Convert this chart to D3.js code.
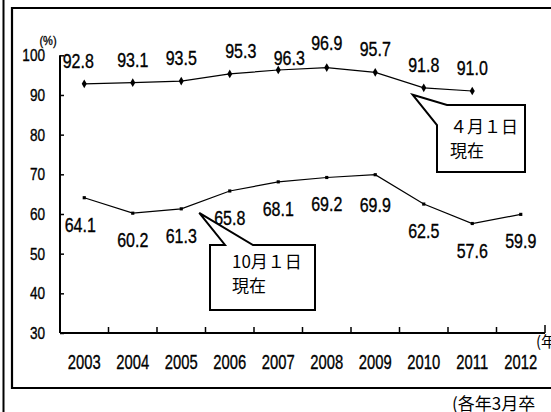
<!DOCTYPE html>
<html>
<head>
<meta charset="utf-8">
<script src="https://cdn.jsdelivr.net/npm/d3@7"></script>
<style>
  html, body { margin: 0; padding: 0; background: #fff; }
  svg { display: block; }
</style>
</head>
<body>
<svg id="chart" width="551" height="412"></svg>
<script>
// ---- data ----
const years = [2003, 2004, 2005, 2006, 2007, 2008, 2009, 2010, 2011, 2012];
const april = [92.8, 93.1, 93.5, 95.3, 96.3, 96.9, 95.7, 91.8, 91.0];          // 4月1日現在 (to 2011)
const october = [64.1, 60.2, 61.3, 65.8, 68.1, 69.2, 69.9, 62.5, 57.6, 59.9];  // 10月1日現在
const yTicks = [30, 40, 50, 60, 70, 80, 90, 100];
const aprilLabel = ["４月１日", "現在"];
const octoberLabel = ["10月１日", "現在"];
const yUnit = "(%)";
const xUnit = "(年";
const note = "(各年3月卒";

// ---- layout (label nudges, pixels) ----
const aprilNudge = { 2003: [-6, 0], 2006: [11, 0], 2007: [11, 11], 2008: [0, -2] };
const octNudge = { 2003: [-4, 0], 2009: [0, 3] };

const svg = d3.select("#chart");
const numFont = "'Liberation Sans', Arial, sans-serif";
const jpFont = "'Noto Sans CJK JP', 'Noto Sans CJK SC', sans-serif";

const x = d3.scaleBand().domain(years).range([60, 545]).padding(0);
const y = d3.scaleLinear().domain([30, 100]).range([333, 55.3]);
const cx = d => x(d) + x.bandwidth() / 2;

// frame
svg.append("line").attr("x1", 3.5).attr("x2", 3.5).attr("y1", 0).attr("y2", 412)
  .attr("stroke", "#000").attr("stroke-width", 2);
svg.append("path").attr("d", "M 560 8 L 12 8 L 12 388 L 560 388")
  .attr("fill", "none").attr("stroke", "#000").attr("stroke-width", 2.2);

function condText(g, tx, ty, str, size, sx, anchor) {
  const gg = g.append("g").attr("transform", `translate(${tx},${ty})`);
  gg.append("text").attr("transform", `scale(${sx},1)`)
    .attr("text-anchor", anchor || "middle")
    .attr("font-family", numFont).attr("font-size", size)
    .attr("fill", "#000").attr("stroke", "#000").attr("stroke-width", 0.35)
    .text(str);
  return gg;
}

// y axis
const yAxis = svg.append("g").attr("transform", "translate(60,0)")
  .call(d3.axisRight(y).tickValues(yTicks).tickSize(4).tickFormat(""));
yAxis.select(".domain").remove();
yAxis.selectAll("line").attr("stroke", "#000").attr("stroke-width", 1.5);
svg.append("line").attr("x1", 60).attr("x2", 60).attr("y1", y(100)).attr("y2", y(30))
  .attr("stroke", "#000").attr("stroke-width", 2);
const yl = svg.append("g");
yTicks.forEach(t => condText(yl, 45, y(t) + 6, String(t), 17, 0.8, "end"));
condText(svg, 48, 45, yUnit, 13, 0.85, "middle");

// x axis
const xAxis = svg.append("g").attr("transform", "translate(0,333)")
  .call(d3.axisTop(x).tickSize(0).tickFormat(""));
xAxis.select(".domain").remove();
const bounds = years.slice(1).map(d => x(d)).concat([x(years[years.length - 1]) + x.bandwidth()]);
svg.selectAll("line.xt").data(bounds).enter().append("line").attr("class", "xt")
  .attr("x1", d => d).attr("x2", d => d).attr("y1", 333)
  .attr("y2", (d, i) => i === bounds.length - 1 ? 325 : 327)
  .attr("stroke", "#000").attr("stroke-width", 1.5);
svg.append("line").attr("x1", 60).attr("x2", x(years[years.length - 1]) + x.bandwidth())
  .attr("y1", 333).attr("y2", 333).attr("stroke", "#000").attr("stroke-width", 2);
const xl = svg.append("g");
years.forEach(d => condText(xl, cx(d), 369, String(d), 20, 0.74, "middle"));

svg.append("text").attr("x", 536).attr("y", 347).attr("font-family", jpFont)
  .attr("font-size", 15).attr("fill", "#000").text(xUnit);
svg.append("text").attr("x", 452).attr("y", 410).attr("font-family", jpFont)
  .attr("font-size", 17).attr("fill", "#000").text(note);

// lines
const line = d3.line().x(d => cx(d[0])).y(d => y(d[1]));
const aprilPts = april.map((v, i) => [years[i], v]);
const octPts = october.map((v, i) => [years[i], v]);
svg.append("path").datum(aprilPts).attr("d", line).attr("fill", "none")
  .attr("stroke", "#000").attr("stroke-width", 1.2);
svg.append("path").datum(octPts).attr("d", line).attr("fill", "none")
  .attr("stroke", "#000").attr("stroke-width", 1.2);
svg.selectAll("path.am").data(aprilPts).enter().append("path").attr("class", "am")
  .attr("d", d3.symbol(d3.symbolDiamond, 22))
  .attr("transform", d => `translate(${cx(d[0])},${y(d[1])})`).attr("fill", "#000");
svg.selectAll("path.om").data(octPts).enter().append("path").attr("class", "om")
  .attr("d", d3.symbol(d3.symbolSquare, 10))
  .attr("transform", d => `translate(${cx(d[0])},${y(d[1])})`).attr("fill", "#000");

// value labels
const vl = svg.append("g");
aprilPts.forEach(([yr, v]) => {
  const n = aprilNudge[yr] || [0, 0];
  condText(vl, cx(yr) + n[0], y(v) - 16 + n[1], v.toFixed(1), 20, 0.8, "middle");
});
octPts.forEach(([yr, v]) => {
  const n = octNudge[yr] || [0, 0];
  condText(vl, cx(yr) + n[0], y(v) + 34 + n[1], v.toFixed(1), 20, 0.8, "middle");
});

// callouts
function callout(d, lines, tx, ty) {
  svg.append("path").attr("d", d).attr("fill", "#fff").attr("stroke", "#000").attr("stroke-width", 2);
  lines.forEach((s, i) => svg.append("text").attr("x", tx).attr("y", ty + i * 24)
    .attr("font-family", jpFont).attr("font-size", 17).attr("fill", "#000").text(s));
}
// April callout, tip near the 2010 point
const t1 = [cx(2010) - 11, y(91.8) + 7];
callout(`M ${t1[0]} ${t1[1]} L 447 105 L 525 105 L 525 172 L 437 172 L 437 125 Z`, aprilLabel, 450, 133);
// October callout, tip near the 2005 point
const t2 = [cx(2005) + 18, y(61.3) + 4];
callout(`M 210 245 L 225 245 L ${t2[0]} ${t2[1]} L 253 245 L 315 245 L 315 310 L 210 310 Z`, octoberLabel, 232, 268);
</script>
</body>
</html>
